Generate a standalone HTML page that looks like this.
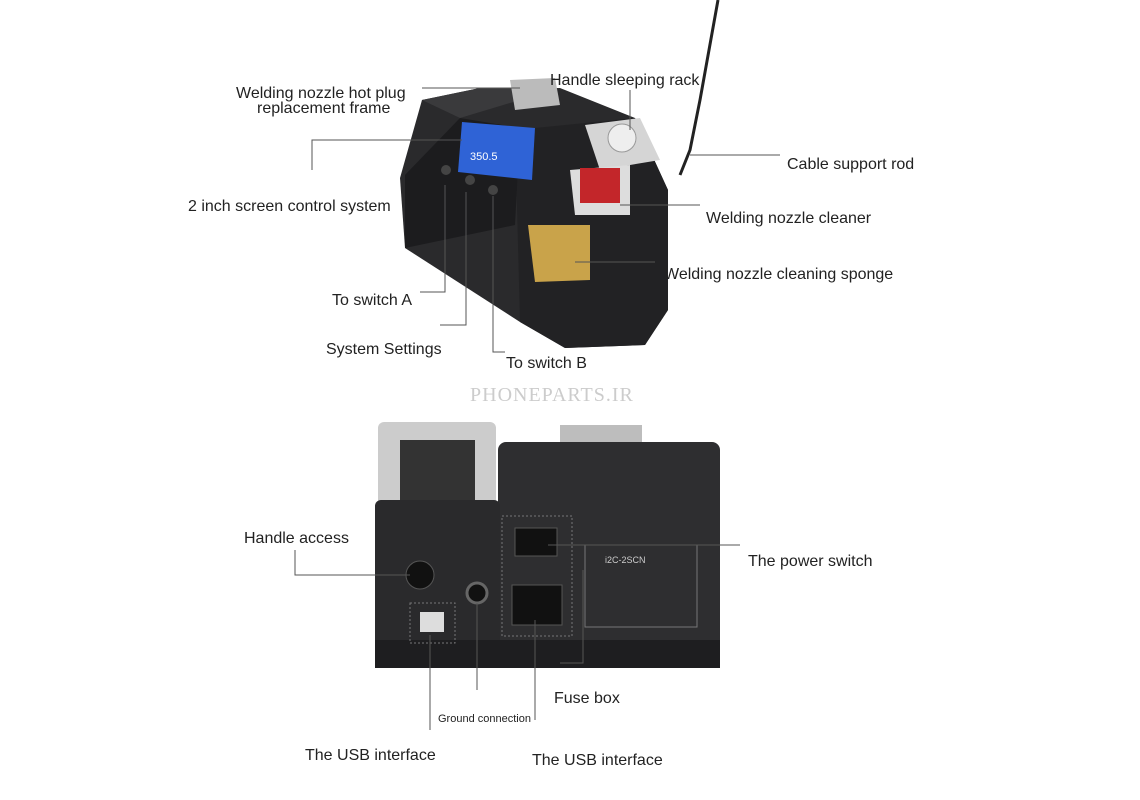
<!DOCTYPE html>
<html><head><meta charset="utf-8"><style>
html,body{margin:0;padding:0;background:#fff;}
svg{display:block}
text{font-family:"Liberation Sans",sans-serif;font-size:16px;fill:#222}
</style></head><body>
<svg width="1140" height="800" viewBox="0 0 1140 800" xmlns="http://www.w3.org/2000/svg">
<!-- cable -->
<path d="M718 0 L700 100 L690 150 L680 175" stroke="#222" stroke-width="3" fill="none"/>
<!-- top device body -->
<polygon points="400,178 422,100 480,88 560,88 635,118 668,190 668,310 645,345 565,348 520,322 405,248" fill="#2a2a2c"/>
<polygon points="422,100 480,88 560,88 520,100 460,118" fill="#3a3a3c"/>
<polygon points="515,130 635,118 668,190 668,310 645,345 565,348 520,322" fill="#222224"/>
<polygon points="405,175 460,118 520,128 515,225 405,248" fill="#1c1c1e"/>
<!-- hot plug frame -->
<polygon points="510,80 555,78 560,105 515,110" fill="#bbb"/>
<!-- screen -->
<polygon points="462,122 535,128 532,180 458,172" fill="#2f63d6"/>
<text x="470" y="160" style="font-size:11px;fill:#fff">350.5</text>
<!-- buttons -->
<circle cx="446" cy="170" r="5" fill="#444"/><circle cx="470" cy="180" r="5" fill="#444"/><circle cx="493" cy="190" r="5" fill="#444"/>
<!-- holder / cleaner -->
<polygon points="585,125 640,118 660,160 600,170" fill="#d5d5d5"/>
<circle cx="622" cy="138" r="14" fill="#eee" stroke="#999"/>
<polygon points="570,170 630,165 630,215 575,215" fill="#ddd"/>
<rect x="580" y="168" width="40" height="35" fill="#c3262a"/>
<polygon points="528,225 590,225 590,280 535,282" fill="#c9a34a"/>
<!-- bottom device -->
<rect x="378" y="422" width="118" height="120" fill="#ccc" rx="6"/>
<rect x="400" y="440" width="75" height="100" fill="#333"/>
<rect x="560" y="425" width="82" height="50" fill="#bdbdbd"/>
<rect x="498" y="442" width="222" height="220" fill="#2e2e30" rx="8"/>
<rect x="375" y="500" width="125" height="160" fill="#2a2a2c" rx="6"/>
<rect x="375" y="640" width="345" height="28" fill="#1e1e20"/>
<circle cx="420" cy="575" r="14" fill="#111" stroke="#555"/>
<circle cx="477" cy="593" r="10" fill="#111" stroke="#666" stroke-width="3"/>
<rect x="410" y="603" width="45" height="40" fill="none" stroke="#777" stroke-dasharray="2,2"/>
<rect x="420" y="612" width="24" height="20" fill="#ddd"/>
<rect x="502" y="516" width="70" height="120" fill="none" stroke="#777" stroke-dasharray="2,2"/>
<rect x="515" y="528" width="42" height="28" fill="#111" stroke="#555"/>
<rect x="512" y="585" width="50" height="40" fill="#111" stroke="#555"/>
<rect x="585" y="545" width="112" height="82" fill="none" stroke="#777"/>
<text x="605" y="563" style="font-size:9px;fill:#ccc">i2C-2SCN</text>
<!-- connector lines -->
<g stroke="#555" stroke-width="1" fill="none">
<line x1="422" y1="88" x2="520" y2="88"/>
<line x1="630" y1="90" x2="630" y2="130"/>
<line x1="690" y1="155" x2="780" y2="155"/>
<line x1="620" y1="205" x2="700" y2="205"/>
<line x1="575" y1="262" x2="655" y2="262"/>
<polyline points="312,170 312,140 462,140"/>
<polyline points="420,292 445,292 445,185"/>
<polyline points="440,325 466,325 466,192"/>
<polyline points="505,352 493,352 493,196"/>
<polyline points="295,550 295,575 410,575"/>
<line x1="548" y1="545" x2="740" y2="545"/>
<polyline points="560,663 583,663 583,570"/>
<line x1="477" y1="603" x2="477" y2="690"/>
<line x1="430" y1="635" x2="430" y2="730"/>
<line x1="535" y1="620" x2="535" y2="720"/>
</g>
<!-- labels -->
<text x="236" y="98">Welding nozzle hot plug</text>
<text x="257" y="113">replacement frame</text>
<text x="550" y="85">Handle sleeping rack</text>
<text x="787" y="169">Cable support rod</text>
<text x="706" y="223">Welding nozzle cleaner</text>
<text x="664" y="279">Welding nozzle cleaning sponge</text>
<text x="188" y="211">2 inch screen control system</text>
<text x="332" y="305">To switch A</text>
<text x="326" y="354">System Settings</text>
<text x="506" y="368">To switch B</text>
<text x="470" y="401" style="font-family:'Liberation Serif',serif;font-size:20px;fill:#ccc;letter-spacing:1px">PHONEPARTS.IR</text>
<text x="244" y="543">Handle access</text>
<text x="748" y="566">The power switch</text>
<text x="554" y="703">Fuse box</text>
<text x="438" y="722" style="font-size:11px">Ground connection</text>
<text x="305" y="760">The USB interface</text>
<text x="532" y="765">The USB interface</text>
</svg>
</body></html>
